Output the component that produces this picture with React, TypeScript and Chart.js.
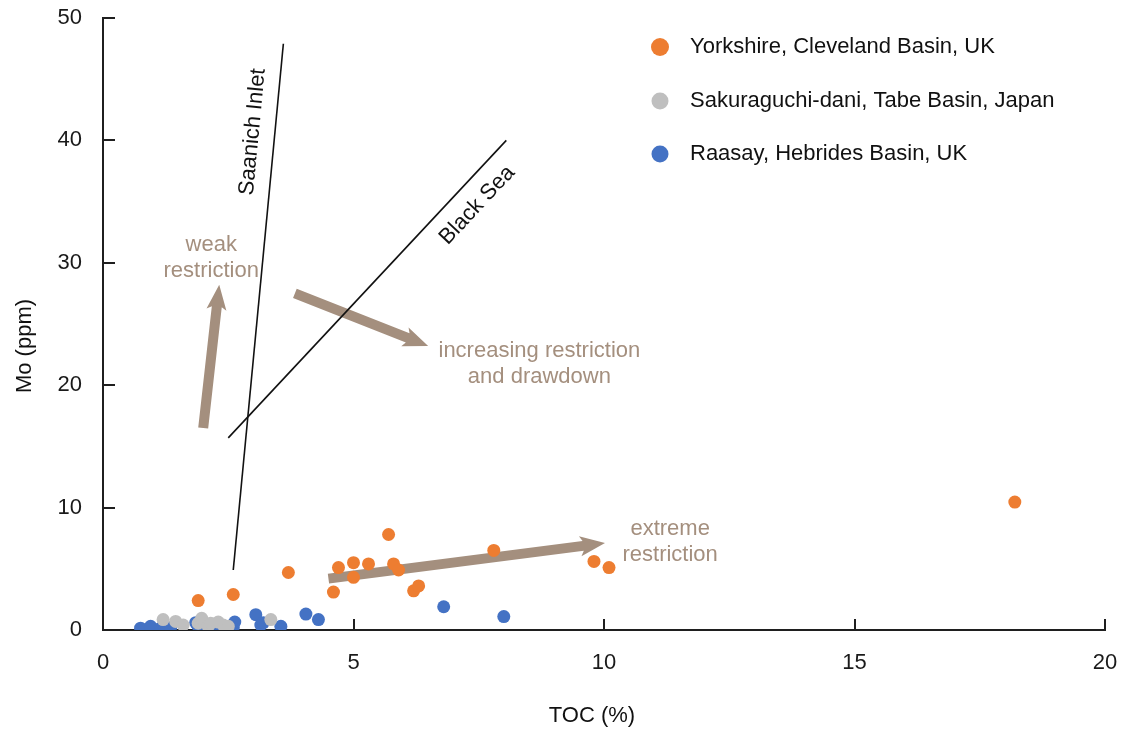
import React, { useEffect, useRef } from 'react';
import { Chart, registerables } from 'chart.js';

Chart.register(...registerables);

// ---------- data ----------
const seriesNames = [
  'Yorkshire, Cleveland Basin, UK',
  'Sakuraguchi-dani, Tabe Basin, Japan',
  'Raasay, Hebrides Basin, UK',
];
const seriesColors = ['#ED7D31', '#BFBFBF', '#4472C4'];

const yorkshireTOC = [1.9, 2.6, 3.7, 4.6, 4.7, 5.0, 5.0, 5.3, 5.7, 5.8, 5.9, 6.2, 6.3, 7.8, 9.8, 10.1, 18.2];
const yorkshireMo = [2.4, 2.9, 4.7, 3.1, 5.1, 5.5, 4.3, 5.4, 7.8, 5.4, 4.9, 3.2, 3.6, 6.5, 5.6, 5.1, 10.45];

const sakuraTOC = [1.2, 1.45, 1.6, 1.9, 1.97, 2.1, 2.15, 2.3, 2.4, 2.5, 3.35];
const sakuraMo = [0.85, 0.7, 0.4, 0.55, 0.95, 0.3, 0.55, 0.65, 0.4, 0.3, 0.85];

const raasayTOC = [0.75, 0.95, 1.15, 1.35, 1.85, 1.9, 2.05, 2.3, 2.6, 2.63, 3.05, 3.15, 3.2, 3.55, 4.05, 4.3, 6.8, 8.0];
const raasayMo = [0.15, 0.3, 0.15, 0.2, 0.6, 0.3, 0.15, 0.2, 0.2, 0.65, 1.25, 0.4, 0.6, 0.3, 1.3, 0.85, 1.9, 1.1];

const xTickValues = [0, 5, 10, 15, 20];
const yTickValues = [0, 10, 20, 30, 40, 50];

// reference lines
const lineNames = ['Saanich Inlet', 'Black Sea'];
const saanichTOC = [2.6, 3.6];
const saanichMo = [4.9, 47.9];
const blackSeaTOC = [2.5, 8.05];
const blackSeaMo = [15.7, 40.0];
const lineLabelTOC = [2.99, 7.47];
const lineLabelMo = [40.7, 34.7];

// arrows
const arrowFromTOC = [2.0, 3.83, 4.5];
const arrowFromMo = [16.5, 27.5, 4.2];
const arrowToTOC = [2.32, 6.49, 10.02];
const arrowToMo = [28.2, 23.2, 7.1];

// arrow notes
const noteLines = [
  ['weak', 'restriction'],
  ['increasing restriction', 'and drawdown'],
  ['extreme', 'restriction'],
];
const noteTOC = [2.16, 8.71, 11.32];
const noteMo = [31.5, 22.8, 8.25];

const FONT = '"Liberation Sans", Arial, sans-serif';
const TAUPE = '#A48F7E';
const AXIS = '#1f1f1f';

function toPoints(xs: number[], ys: number[]) {
  return xs.map((x, i) => ({ x, y: ys[i] }));
}

function drawArrow(ctx: CanvasRenderingContext2D, x1: number, y1: number, x2: number, y2: number) {
  const shaft = 10;
  const headLen = 22;
  const headW = 20;
  const a = Math.atan2(y2 - y1, x2 - x1);
  const len = Math.hypot(x2 - x1, y2 - y1);
  ctx.save();
  ctx.translate(x1, y1);
  ctx.rotate(a);
  ctx.beginPath();
  ctx.moveTo(0, -shaft / 2);
  ctx.lineTo(len - headLen, -shaft / 2);
  ctx.lineTo(len - headLen - 3, -headW / 2);
  ctx.lineTo(len, 0);
  ctx.lineTo(len - headLen - 3, headW / 2);
  ctx.lineTo(len - headLen, shaft / 2);
  ctx.lineTo(0, shaft / 2);
  ctx.closePath();
  ctx.fillStyle = TAUPE;
  ctx.fill();
  ctx.restore();
}

const overlayPlugin = {
  id: 'overlay',
  beforeDatasetsDraw(chart: any) {
    const ctx: CanvasRenderingContext2D = chart.ctx;
    const xs = chart.scales.x;
    const ys = chart.scales.y;
    for (let i = 0; i < arrowFromTOC.length; i++) {
      drawArrow(
        ctx,
        xs.getPixelForValue(arrowFromTOC[i]),
        ys.getPixelForValue(arrowFromMo[i]),
        xs.getPixelForValue(arrowToTOC[i]),
        ys.getPixelForValue(arrowToMo[i])
      );
    }
    ctx.save();
    ctx.fillStyle = TAUPE;
    ctx.font = `22px ${FONT}`;
    ctx.textAlign = 'center';
    ctx.textBaseline = 'middle';
    for (let i = 0; i < noteLines.length; i++) {
      const px = xs.getPixelForValue(noteTOC[i]);
      const py = ys.getPixelForValue(noteMo[i]);
      noteLines[i].forEach((t, j) => ctx.fillText(t, px, py + j * 26));
    }
    ctx.restore();
  },
  afterDatasetsDraw(chart: any) {
    const ctx: CanvasRenderingContext2D = chart.ctx;
    const xs = chart.scales.x;
    const ys = chart.scales.y;
    const lines = [
      [saanichTOC, saanichMo],
      [blackSeaTOC, blackSeaMo],
    ];
    ctx.save();
    ctx.fillStyle = '#111';
    ctx.font = `22px ${FONT}`;
    ctx.textAlign = 'center';
    ctx.textBaseline = 'middle';
    lines.forEach(([lx, ly], i) => {
      const ang = Math.atan2(
        ys.getPixelForValue(ly[1]) - ys.getPixelForValue(ly[0]),
        xs.getPixelForValue(lx[1]) - xs.getPixelForValue(lx[0])
      );
      ctx.save();
      ctx.translate(xs.getPixelForValue(lineLabelTOC[i]), ys.getPixelForValue(lineLabelMo[i]));
      ctx.rotate(ang);
      ctx.fillText(lineNames[i], 0, 0);
      ctx.restore();
    });
    ctx.restore();
  },
  afterDraw(chart: any) {
    const ctx: CanvasRenderingContext2D = chart.ctx;
    const xs = chart.scales.x;
    const ys = chart.scales.y;
    const area = chart.chartArea;
    ctx.save();
    // inward tick marks
    ctx.strokeStyle = AXIS;
    ctx.lineWidth = 2;
    ctx.beginPath();
    xTickValues.forEach((v) => {
      if (v === 0) return;
      const px = Math.round(xs.getPixelForValue(v));
      ctx.moveTo(px, area.bottom);
      ctx.lineTo(px, area.bottom - 11);
    });
    yTickValues.forEach((v) => {
      if (v === 0) return;
      const py = Math.round(ys.getPixelForValue(v));
      ctx.moveTo(area.left, py);
      ctx.lineTo(area.left + 12, py);
    });
    ctx.stroke();

    // axis titles
    ctx.fillStyle = '#111';
    ctx.font = `22px ${FONT}`;
    ctx.textAlign = 'center';
    ctx.textBaseline = 'middle';
    ctx.fillText('TOC (%)', (area.left + area.right) / 2 - 12, area.bottom + 86);
    ctx.save();
    ctx.translate(area.left - 78, (area.top + area.bottom) / 2 + 22);
    ctx.rotate(-Math.PI / 2);
    ctx.fillText('Mo (ppm)', 0, 0);
    ctx.restore();

    // legend
    ctx.textAlign = 'left';
    const lx = area.left + 557;
    const rowY = [area.top + 29, area.top + 83, area.top + 136];
    seriesNames.forEach((name, i) => {
      ctx.beginPath();
      ctx.fillStyle = seriesColors[i];
      ctx.arc(lx, rowY[i], i === 0 ? 9 : 8.5, 0, Math.PI * 2);
      ctx.fill();
      ctx.fillStyle = '#111';
      ctx.fillText(name, lx + 30, rowY[i]);
    });
    ctx.restore();
  },
};

export default function App() {
  const ref = useRef<HTMLCanvasElement>(null);

  useEffect(() => {
    if (!ref.current) return;
    const scatterStyle = (i: number) => ({
      backgroundColor: seriesColors[i],
      borderColor: seriesColors[i],
      pointRadius: 6.5,
      pointBorderWidth: 0,
      pointHoverRadius: 6.5,
    });
    const chart = new Chart(ref.current, {
      type: 'scatter',
      data: {
        datasets: [
          { label: seriesNames[0], data: toPoints(yorkshireTOC, yorkshireMo), ...scatterStyle(0), order: 1 },
          { label: seriesNames[1], data: toPoints(sakuraTOC, sakuraMo), ...scatterStyle(1), order: 2 },
          { label: seriesNames[2], data: toPoints(raasayTOC, raasayMo), ...scatterStyle(2), order: 3 },
          {
            label: lineNames[0],
            data: toPoints(saanichTOC, saanichMo),
            showLine: true,
            borderColor: '#111',
            borderWidth: 1.6,
            pointRadius: 0,
            order: 4,
          },
          {
            label: lineNames[1],
            data: toPoints(blackSeaTOC, blackSeaMo),
            showLine: true,
            borderColor: '#111',
            borderWidth: 1.6,
            pointRadius: 0,
            order: 4,
          },
        ],
      },
      options: {
        responsive: false,
        animation: false,
        layout: { padding: { top: 18, right: 21, left: 0, bottom: 0 } },
        plugins: {
          legend: { display: false },
          tooltip: { enabled: false },
        },
        scales: {
          x: {
            type: 'linear',
            min: 0,
            max: 20,
            afterBuildTicks: (s: any) => {
              s.ticks = xTickValues.map((v) => ({ value: v }));
            },
            ticks: { padding: 20, color: '#1a1a1a', font: { family: FONT, size: 22 } },
            grid: { display: true, drawOnChartArea: false, drawTicks: false },
            border: { display: true, color: AXIS, width: 2 },
            afterFit: (s: any) => {
              s.height = 101;
              s.paddingLeft = 0;
              s.paddingRight = 0;
            },
          },
          y: {
            type: 'linear',
            min: 0,
            max: 50,
            afterBuildTicks: (s: any) => {
              s.ticks = yTickValues.map((v) => ({ value: v }));
            },
            ticks: { padding: 21, color: '#1a1a1a', font: { family: FONT, size: 22 } },
            grid: { display: true, drawOnChartArea: false, drawTicks: false },
            border: { display: true, color: AXIS, width: 2 },
            afterFit: (s: any) => {
              s.width = 103;
              s.paddingTop = 0;
              s.paddingBottom = 0;
            },
          },
        },
      },
      plugins: [overlayPlugin],
    });
    return () => chart.destroy();
  }, []);

  return (
    <div style={{ position: 'fixed', left: 0, top: 0, width: 1126, height: 731, background: '#ffffff' }}>
      <canvas ref={ref} width={1126} height={731} style={{ display: 'block' }} />
    </div>
  );
}
